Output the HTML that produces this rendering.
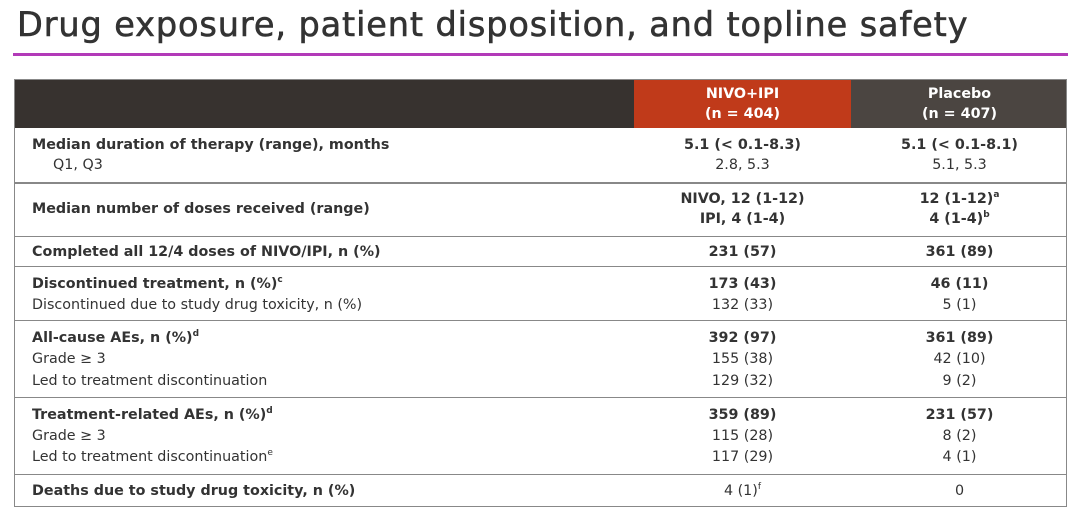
<!DOCTYPE html>
<html><head><meta charset="utf-8"><style>
body{margin:0;width:1080px;height:512px;background:#fff;position:relative;overflow:hidden;font-family:"DejaVu Sans","Liberation Sans",sans-serif;color:#333}
.t{position:absolute;left:17px;top:5px;font-size:33.5px;letter-spacing:0.9px;color:#333;white-space:nowrap;-webkit-text-stroke:0.6px #333}
.pl{position:absolute;left:13px;top:53px;width:1055px;height:3px;background:#b23ab8}
.box{position:absolute;left:14px;top:79px;width:1053px;height:428px;border:1px solid #888;box-sizing:border-box}
.hd{position:absolute;top:79px;height:49px}
.hl{position:absolute;left:14px;width:1053px;height:1px;background:#888}
.L,.C{position:absolute;font-size:14.3px;line-height:20px;white-space:nowrap}
.L{left:32px}
.C{text-align:center;width:217px}
.b{font-weight:bold}
.w{color:#fff;font-weight:bold}
sup{font-size:9px;vertical-align:6px;line-height:0}
</style></head><body>
<div class="t">Drug exposure, patient disposition, and topline safety</div>
<div class="pl"></div>
<div class="hd" style="left:14px;width:620px;background:#37322f"></div>
<div class="hd" style="left:634px;width:217px;background:#c03a1a"></div>
<div class="hd" style="left:851px;width:216px;background:#4b4541"></div>
<div class="C w" style="left:634px;top:84px">NIVO+IPI</div>
<div class="C w" style="left:634px;top:104px">(n = 404)</div>
<div class="C w" style="left:851px;top:84px">Placebo</div>
<div class="C w" style="left:851px;top:104px">(n = 407)</div>
<div class="box"></div>
<div class="hl" style="top:182px;height:2px"></div>
<div class="hl" style="top:236px"></div>
<div class="hl" style="top:266px"></div>
<div class="hl" style="top:320px"></div>
<div class="hl" style="top:397px"></div>
<div class="hl" style="top:474px"></div>

<div class="L b" style="top:135px">Median duration of therapy (range), months</div>
<div class="L" style="top:155px;left:53px">Q1, Q3</div>
<div class="C b" style="left:634px;top:135px">5.1 (&lt; 0.1-8.3)</div>
<div class="C" style="left:634px;top:155px">2.8, 5.3</div>
<div class="C b" style="left:851px;top:135px">5.1 (&lt; 0.1-8.1)</div>
<div class="C" style="left:851px;top:155px">5.1, 5.3</div>

<div class="L b" style="top:199px">Median number of doses received (range)</div>
<div class="C b" style="left:634px;top:189px">NIVO, 12 (1-12)</div>
<div class="C b" style="left:634px;top:209px">IPI, 4 (1-4)</div>
<div class="C b" style="left:851px;top:189px">12 (1-12)<sup>a</sup></div>
<div class="C b" style="left:851px;top:209px">4 (1-4)<sup>b</sup></div>

<div class="L b" style="top:242px">Completed all 12/4 doses of NIVO/IPI, n (%)</div>
<div class="C b" style="left:634px;top:242px">231 (57)</div>
<div class="C b" style="left:851px;top:242px">361 (89)</div>

<div class="L b" style="top:274px">Discontinued treatment, n (%)<sup>c</sup></div>
<div class="L" style="top:295px">Discontinued due to study drug toxicity, n (%)</div>
<div class="C b" style="left:634px;top:274px">173 (43)</div>
<div class="C" style="left:634px;top:295px">132 (33)</div>
<div class="C b" style="left:851px;top:274px">46 (11)</div>
<div class="C" style="left:851px;top:295px">5 (1)</div>

<div class="L b" style="top:328px">All-cause AEs, n (%)<sup>d</sup></div>
<div class="L" style="top:349px">Grade ≥ 3</div>
<div class="L" style="top:371px">Led to treatment discontinuation</div>
<div class="C b" style="left:634px;top:328px">392 (97)</div>
<div class="C" style="left:634px;top:349px">155 (38)</div>
<div class="C" style="left:634px;top:371px">129 (32)</div>
<div class="C b" style="left:851px;top:328px">361 (89)</div>
<div class="C" style="left:851px;top:349px">42 (10)</div>
<div class="C" style="left:851px;top:371px">9 (2)</div>

<div class="L b" style="top:405px">Treatment-related AEs, n (%)<sup>d</sup></div>
<div class="L" style="top:426px">Grade ≥ 3</div>
<div class="L" style="top:447px">Led to treatment discontinuation<sup>e</sup></div>
<div class="C b" style="left:634px;top:405px">359 (89)</div>
<div class="C" style="left:634px;top:426px">115 (28)</div>
<div class="C" style="left:634px;top:447px">117 (29)</div>
<div class="C b" style="left:851px;top:405px">231 (57)</div>
<div class="C" style="left:851px;top:426px">8 (2)</div>
<div class="C" style="left:851px;top:447px">4 (1)</div>

<div class="L b" style="top:481px">Deaths due to study drug toxicity, n (%)</div>
<div class="C" style="left:634px;top:481px">4 (1)<sup>f</sup></div>
<div class="C" style="left:851px;top:481px">0</div>
</body></html>
